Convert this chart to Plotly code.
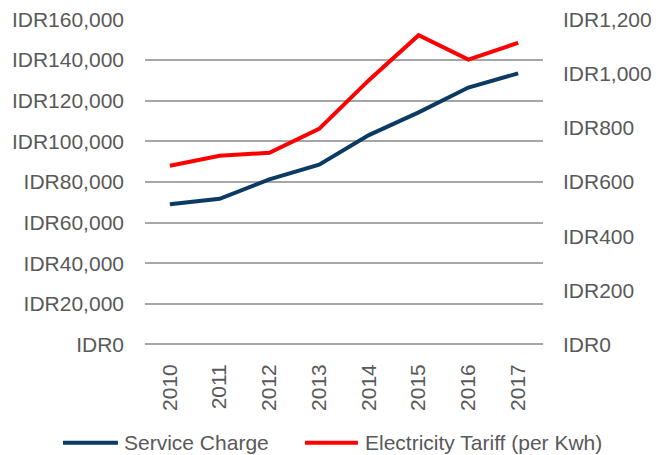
import plotly.graph_objects as go

# Annual figures, 2010-2017
years = ["2010", "2011", "2012", "2013", "2014", "2015", "2016", "2017"]
service_charge = [69000, 71700, 81300, 88500, 103100, 114300, 126500, 133500]
electricity_tariff = [660, 697, 708, 796, 976, 1142, 1052, 1114]

left_ticks = [0, 20000, 40000, 60000, 80000, 100000, 120000, 140000, 160000]
left_labels = ["IDR{:,}".format(v) for v in left_ticks]
right_ticks = [0, 200, 400, 600, 800, 1000, 1200]
right_labels = ["IDR{:,}".format(v) for v in right_ticks]

NAVY = "#0B3A63"
RED = "#FF0000"
TEXT = "#595959"
GRID = "#A6A6A6"
FONT = "Liberation Sans, Arial, sans-serif"
SIZE = 21

# small padding so the gridlines at 0 and at the top value stay visible
PAD = 250
left_range = [-PAD, 160000 + PAD]
right_range = [-PAD * 1200 / 160000, 1200 + PAD * 1200 / 160000]

fig = go.Figure()
fig.add_trace(go.Scatter(
    x=years, y=service_charge, name="Service Charge", mode="lines",
    line=dict(color=NAVY, width=4), yaxis="y",
))
fig.add_trace(go.Scatter(
    x=years, y=electricity_tariff, name="Electricity Tariff (per Kwh)", mode="lines",
    line=dict(color=RED, width=4), yaxis="y2",
))

# Legend drawn below the axis: a line sample followed by the series name
legend_y = -0.30
legend_items = [
    ("Service Charge", NAVY, -0.206, -0.068, -0.057),
    ("Electricity Tariff (per Kwh)", RED, 0.402, 0.535, 0.548),
]
for label, color, x0, x1, xt in legend_items:
    fig.add_shape(type="line", xref="paper", yref="paper",
                  x0=x0, x1=x1, y0=legend_y, y1=legend_y,
                  line=dict(color=color, width=4))
    fig.add_annotation(xref="paper", yref="paper", x=xt, y=legend_y,
                       text=label, showarrow=False, xanchor="left", yanchor="middle",
                       font=dict(family=FONT, size=SIZE, color=TEXT))

fig.update_layout(
    width=668, height=455,
    margin=dict(l=145, r=125, t=19, b=110),
    paper_bgcolor="white", plot_bgcolor="white",
    font=dict(family=FONT, size=SIZE, color=TEXT),
    showlegend=False,
    xaxis=dict(
        type="category", tickangle=-90, showgrid=False, zeroline=False,
        showline=False, ticks="", ticklabelstandoff=14, automargin=False,
        tickfont=dict(family=FONT, size=SIZE, color=TEXT),
        range=[-0.5, 7.5],
    ),
    yaxis=dict(
        range=left_range, tickvals=left_ticks, ticktext=left_labels,
        showgrid=True, gridcolor=GRID, gridwidth=1.5,
        zeroline=True, zerolinecolor=GRID, zerolinewidth=1.5,
        showline=False, ticks="", ticklabelstandoff=20, automargin=False,
        tickfont=dict(family=FONT, size=SIZE, color=TEXT),
    ),
    yaxis2=dict(
        range=right_range, tickvals=right_ticks, ticktext=right_labels,
        overlaying="y", side="right", showgrid=False, zeroline=False,
        showline=False, ticks="", ticklabelstandoff=19, automargin=False,
        tickfont=dict(family=FONT, size=SIZE, color=TEXT),
    ),
)

fig.write_html("out.html")
